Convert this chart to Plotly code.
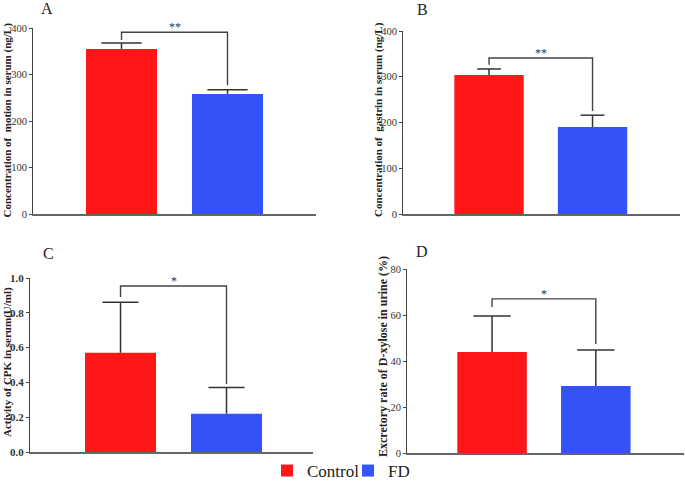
import plotly.graph_objects as go

W, H = 685, 484
FONT = "Liberation Serif"

groups = ["Control", "FD"]
colors = ["#FF1717", "#3452F8"]

panel_letters = ["A", "B", "C", "D"]
y_titles = [
    "Concentration of  motion in serum (ng/L)",
    "Concentration of  gastrin in serum (ng/L)",
    "Activity of CPK in serum(U/ml)",
    "Excretory rate of D-xylose in urine (%)",
]

motion_mean = [355, 258]
motion_sd = [13, 9]
gastrin_mean = [304, 190]
gastrin_sd = [13, 26]
cpk_mean = [0.57, 0.22]
cpk_sd = [0.29, 0.15]
xylose_mean = [43.9, 29.1]
xylose_sd = [15.7, 15.7]

means = [motion_mean, gastrin_mean, cpk_mean, xylose_mean]
sds = [motion_sd, gastrin_sd, cpk_sd, xylose_sd]

y_max = [400, 400, 1.0, 80]
y_dtick = [100, 100, 0.2, 20]
y_tickformat = ["d", "d", ".1f", "d"]

sig_level = [391, 341, 0.954, 67]
sig_left_end = [374, 326, 0.891, 63.5]
sig_right_end = [277, 225, 0.391, 47.4]
sig_stars = ["**", "**", "*", "*"]

# layout (pixel geometry of each panel: x0, x1, ytop, ybottom)
geom = [
    (33, 316, 28, 214),
    (403, 680, 31, 214),
    (30, 313, 278, 452),
    (407, 684, 269, 453),
]
x_ranges = [(-0.835, 1.835), (-0.831, 1.845), (-0.854, 1.816), (-0.82, 1.85)]
cap_half = [0.19, 0.115, 0.17, 0.18]
title_pos = [(6.5, 120), (378, 120), (7, 362), (383, 357)]
title_size = [11, 11, 11, 12]
tick_size = [10.5, 10.5, 11, 10.5]
tick_weight = ["normal", "normal", "bold", "normal"]
letter_pos = [(47, 9), (422, 9.5), (48.5, 253), (422, 251)]
bar_width = 0.67

fig = go.Figure()
layout = dict(
    width=W, height=H, margin=dict(l=0, r=0, t=0, b=0, autoexpand=False),
    plot_bgcolor="white", paper_bgcolor="white",
    barmode="overlay", font=dict(family=FONT, color="#222"),
    showlegend=True,
)
annotations = []

for p in range(4):
    sfx = "" if p == 0 else str(p + 1)
    xa, ya = "x" + sfx, "y" + sfx
    x0, x1, yt, yb = geom[p]
    for g in range(2):
        fig.add_trace(go.Bar(
            x=[g], y=[means[p][g]], width=bar_width, name=groups[g],
            marker=dict(color=colors[g], line=dict(width=0)),
            xaxis=xa, yaxis=ya, legendgroup=groups[g], showlegend=(p == 0),
        ))
        top = means[p][g] + sds[p][g]
        fig.add_trace(go.Scatter(
            x=[g, g, None, g - cap_half[p], g + cap_half[p]],
            y=[means[p][g], top, None, top, top],
            mode="lines", line=dict(color="#333", width=1.5),
            xaxis=xa, yaxis=ya, showlegend=False, hoverinfo="skip",
        ))
    # significance bracket
    fig.add_trace(go.Scatter(
        x=[0, 0, 1, 1],
        y=[sig_left_end[p], sig_level[p], sig_level[p], sig_right_end[p]],
        mode="lines", line=dict(color="#444", width=1.4),
        xaxis=xa, yaxis=ya, showlegend=False, hoverinfo="skip",
    ))
    annotations.append(dict(
        x=0.5, y=sig_level[p], xref=xa, yref=ya, text=sig_stars[p],
        showarrow=False, yanchor="bottom", yshift=-4,
        font=dict(family=FONT, size=12, color="#333"),
    ))
    layout["xaxis" + sfx] = dict(
        domain=[x0 / W, x1 / W], range=list(x_ranges[p]), anchor=ya,
        showline=True, linecolor="#666", linewidth=2, showgrid=False,
        zeroline=False, showticklabels=False, ticks="", automargin=False,
    )
    layout["yaxis" + sfx] = dict(
        domain=[1 - yb / H, 1 - yt / H], range=[0, y_max[p]], anchor=xa,
        dtick=y_dtick[p], tickformat=y_tickformat[p], automargin=False,
        showline=True, linecolor="#444", linewidth=1, showgrid=False,
        zeroline=False, ticks="outside", ticklen=3, tickcolor="#444",
        tickfont=dict(family=FONT, size=tick_size[p], color="#333",
                      weight=tick_weight[p]),
    )
    tx, ty = title_pos[p]
    annotations.append(dict(
        x=tx / W, y=1 - ty / H, xref="paper", yref="paper",
        text="<b>" + y_titles[p] + "</b>", textangle=-90, showarrow=False,
        xanchor="center", yanchor="middle",
        font=dict(family=FONT, size=title_size[p], color="#222"),
    ))
    lx, ly = letter_pos[p]
    annotations.append(dict(
        x=lx / W, y=1 - ly / H, xref="paper", yref="paper",
        text=panel_letters[p], showarrow=False,
        xanchor="center", yanchor="middle",
        font=dict(family=FONT, size=16, color="#222"),
    ))

layout["annotations"] = annotations
layout["legend"] = dict(
    orientation="h", x=267 / W, xanchor="left", y=-5 / H, yanchor="bottom",
    font=dict(family=FONT, size=17, color="#222"),
    itemwidth=30, entrywidth=36, entrywidthmode="pixels",
    bgcolor="rgba(0,0,0,0)", borderwidth=0,
)
fig.update_layout(**layout)
fig.write_html("out.html", config={"displayModeBar": False},
               post_script="document.body.style.margin='0';")
